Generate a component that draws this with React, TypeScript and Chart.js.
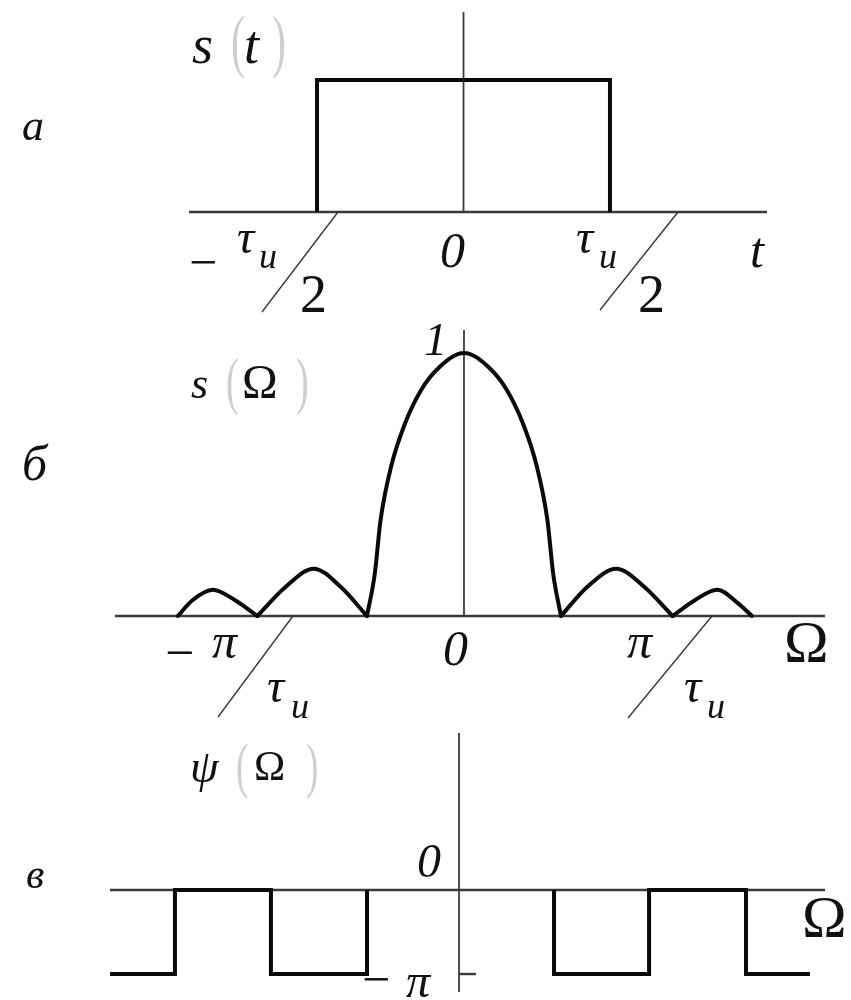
import React, { useEffect, useRef } from "react";
import { Chart, registerables } from "chart.js";
Chart.register(...registerables);

const W = 851;
const H = 1000;
const SERIF = "'Liberation Serif', 'DejaVu Serif', serif";

// ---- а: rectangular pulse s(t); t in units of τи/2
const pulseT = [-1, -1, 1, 1];
const pulseS = [0, 1, 1, 0];

// ---- б: amplitude spectrum s(Ω); Ω in units of the first zero
const mainLobeW = [-1, -0.92, -0.86, -0.75, -0.61, -0.44, -0.27, 0, 0.27, 0.44, 0.61, 0.75, 0.86, 0.92, 1];
const mainLobeS = [0, 0.16, 0.365, 0.57, 0.73, 0.86, 0.94, 1, 0.94, 0.86, 0.73, 0.57, 0.365, 0.16, 0];
const lobe2LeftW = [-2.95, -2.8, -2.59, -2.36, -2.13];
const lobe2LeftS = [0, 0.06, 0.1, 0.06, 0];
const lobe1LeftW = [-2.13, -1.84, -1.55, -1.27, -1];
const lobe1LeftS = [0, 0.11, 0.18, 0.11, 0];
const lobe1RightW = [1, 1.27, 1.57, 1.86, 2.15];
const lobe1RightS = [0, 0.11, 0.18, 0.11, 0];
const lobe2RightW = [2.15, 2.38, 2.61, 2.82, 2.97];
const lobe2RightS = [0, 0.06, 0.1, 0.05, 0];

// ---- в: phase spectrum ψ(Ω); ψ in units of π
const phaseLeftW = [-3.654, -2.974, -2.974, -1.969, -1.969, -0.963, -0.963];
const phaseLeftPsi = [-1, -1, 0, 0, -1, -1, 0];
const phaseRightW = [0.995, 0.995, 1.99, 1.99, 3.005, 3.005, 3.675];
const phaseRightPsi = [0, -1, -1, 0, 0, -1, -1];

const pts = (xs: number[], ys: number[]) => xs.map((x, i) => ({ x, y: ys[i] }));

function txt(ctx: CanvasRenderingContext2D, s: string, x: number, y: number, font: string, color = "#111") {
  ctx.save();
  ctx.font = font;
  ctx.fillStyle = color;
  ctx.textAlign = "left";
  ctx.textBaseline = "alphabetic";
  ctx.fillText(s, x, y);
  ctx.restore();
}

// thin, tall parenthesis (drawn narrower than the font's own glyph)
function paren(ctx: CanvasRenderingContext2D, s: string, x: number, y: number, size: number) {
  ctx.save();
  ctx.translate(x, y);
  ctx.scale(0.6, 1);
  ctx.font = `${size}px ${SERIF}`;
  ctx.fillStyle = "#cfcfcf";
  ctx.textBaseline = "alphabetic";
  ctx.fillText(s, 0, 0);
  ctx.restore();
}

function seg(ctx: CanvasRenderingContext2D, x1: number, y1: number, x2: number, y2: number, w: number, color: string) {
  ctx.save();
  ctx.strokeStyle = color;
  ctx.lineWidth = w;
  ctx.beginPath();
  ctx.moveTo(x1, y1);
  ctx.lineTo(x2, y2);
  ctx.stroke();
  ctx.restore();
}

const AXIS = "#3a3a3a";
const INK = "#0a0a0a";
const it = (n: number) => `italic ${n}px ${SERIF}`;
const up = (n: number) => `${n}px ${SERIF}`;

function axesPlugin(fullVertical = false) {
  return {
    id: "axes",
    beforeDatasetsDraw(chart: any) {
      const { ctx, chartArea, scales } = chart;
      const y0 = scales.y.getPixelForValue(0);
      const x0 = scales.x.getPixelForValue(0);
      seg(ctx, chartArea.left, y0, chartArea.right, y0, 2.4, AXIS);
      seg(ctx, x0, chartArea.top, x0, fullVertical ? chartArea.bottom : y0, 1.8, AXIS);
    },
  };
}

function labelsPlugin(draw: (ctx: CanvasRenderingContext2D, chart: any) => void) {
  return {
    id: "labels",
    afterDatasetsDraw(chart: any) {
      draw(chart.ctx, chart);
    },
  };
}

const lineDs = (data: any[], extra: any = {}) => ({
  data,
  showLine: true,
  borderColor: INK,
  borderWidth: 4,
  pointRadius: 0,
  clip: false,
  fill: false,
  borderJoinStyle: "miter",
  ...extra,
});

const smooth = { cubicInterpolationMode: "monotone", borderJoinStyle: "round", borderCapStyle: "round" };

function baseOptions(pad: any, xr: [number, number], yr: [number, number]) {
  return {
    responsive: false,
    animation: false,
    devicePixelRatio: 1,
    layout: { padding: pad },
    scales: {
      x: { type: "linear", min: xr[0], max: xr[1], display: false },
      y: { type: "linear", min: yr[0], max: yr[1], display: false },
    },
    plugins: { legend: { display: false }, tooltip: { enabled: false } },
    events: [],
  };
}

const configs: any[] = [
  // а
  {
    type: "scatter",
    data: { datasets: [lineDs(pts(pulseT, pulseS))] },
    options: baseOptions({ left: 189, right: W - 767, top: 12, bottom: H - 212 }, [-1.874, 2.072], [0, 1.515]),
    plugins: [
      axesPlugin(),
      labelsPlugin((ctx) => {
        txt(ctx, "а", 22, 140, it(44));
        txt(ctx, "s", 192, 63, it(54));
        paren(ctx, "(", 231, 64, 70);
        txt(ctx, "t", 244, 63, it(54));
        paren(ctx, ")", 272, 64, 70);
        // −τи/2
        txt(ctx, "−", 189, 279, up(50));
        txt(ctx, "τ", 237, 253, it(48));
        txt(ctx, "и", 259, 268, it(36));
        seg(ctx, 338, 212, 262, 312, 1.3, "#333");
        txt(ctx, "2", 300, 312, up(54));
        txt(ctx, "0", 440, 267, it(50));
        // τи/2
        txt(ctx, "τ", 576, 253, it(48));
        txt(ctx, "и", 599, 268, it(36));
        seg(ctx, 678, 212, 600, 310, 1.3, "#333");
        txt(ctx, "2", 638, 312, up(54));
        txt(ctx, "t", 750, 267, it(50));
      }),
    ],
  },
  // б
  {
    type: "scatter",
    data: {
      datasets: [
        lineDs(pts(mainLobeW, mainLobeS), smooth),
        lineDs(pts(lobe2LeftW, lobe2LeftS), smooth),
        lineDs(pts(lobe1LeftW, lobe1LeftS), smooth),
        lineDs(pts(lobe1RightW, lobe1RightS), smooth),
        lineDs(pts(lobe2RightW, lobe2RightS), smooth),
      ],
    },
    options: baseOptions({ left: 115, right: W - 825, top: 330, bottom: H - 616 }, [-3.598, 3.722], [0, 1.087]),
    plugins: [
      axesPlugin(),
      labelsPlugin((ctx) => {
        txt(ctx, "б", 22, 480, it(50));
        txt(ctx, "s", 191, 398, it(44));
        paren(ctx, "(", 226, 402, 64);
        txt(ctx, "Ω", 242, 398, up(48));
        paren(ctx, ")", 296, 402, 64);
        txt(ctx, "1", 424, 355, it(46));
        // −π/τи
        txt(ctx, "−", 165, 670, up(52));
        txt(ctx, "π", 212, 658, it(50));
        seg(ctx, 293, 616, 218, 717, 1.3, "#333");
        txt(ctx, "τ", 267, 702, it(48));
        txt(ctx, "и", 291, 718, it(36));
        txt(ctx, "0", 443, 665, it(50));
        // π/τи
        txt(ctx, "π", 627, 658, it(50));
        seg(ctx, 712, 616, 628, 718, 1.3, "#333");
        txt(ctx, "τ", 684, 702, it(48));
        txt(ctx, "и", 707, 718, it(36));
        txt(ctx, "Ω", 784, 662, up(60));
      }),
    ],
  },
  // в
  {
    type: "scatter",
    data: {
      datasets: [lineDs(pts(phaseLeftW, phaseLeftPsi)), lineDs(pts(phaseRightW, phaseRightPsi))],
    },
    options: baseOptions({ left: 110, right: W - 825, top: 733, bottom: H - 992 }, [-3.654, 3.832], [-1.214, 1.869]),
    plugins: [
      axesPlugin(true),
      labelsPlugin((ctx, chart) => {
        const x0 = chart.scales.x.getPixelForValue(0);
        const yPi = chart.scales.y.getPixelForValue(-1);
        seg(ctx, x0, yPi, x0 + 17, yPi, 2.4, AXIS);
        txt(ctx, "в", 26, 888, it(42));
        txt(ctx, "ψ", 190, 782, it(46));
        paren(ctx, "(", 236, 786, 62);
        txt(ctx, "Ω", 254, 780, up(42));
        paren(ctx, ")", 306, 786, 62);
        txt(ctx, "0", 417, 877, it(48));
        txt(ctx, "−", 362, 996, up(50));
        txt(ctx, "π", 406, 997, it(48));
        txt(ctx, "Ω", 802, 937, up(60));
      }),
    ],
  },
];

function Panel({ config }: { config: any }) {
  const ref = useRef<HTMLCanvasElement | null>(null);
  useEffect(() => {
    if (!ref.current) return;
    const chart = new Chart(ref.current, config);
    return () => chart.destroy();
  }, [config]);
  return (
    <canvas
      ref={ref}
      width={W}
      height={H}
      style={{ position: "absolute", left: 0, top: 0, width: W, height: H }}
    />
  );
}

export default function App() {
  return (
    <div style={{ position: "absolute", left: 0, top: 0, width: W, height: H, background: "#fff", overflow: "hidden" }}>
      {configs.map((c, i) => (
        <Panel key={i} config={c} />
      ))}
    </div>
  );
}
